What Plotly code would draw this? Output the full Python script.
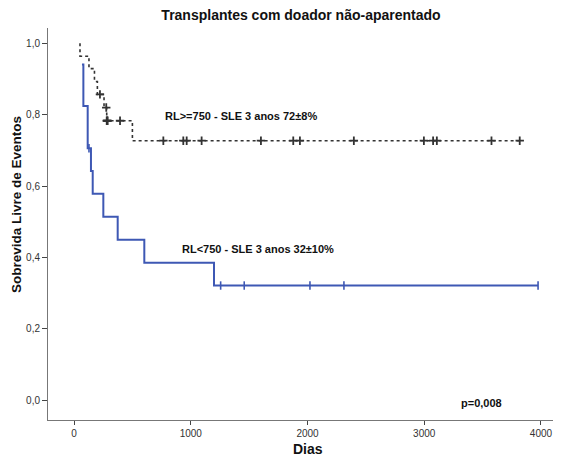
import plotly.graph_objects as go

# RL<750 (blue, solid) - step points of Kaplan-Meier estimate
blue_times = [68, 80, 117, 145, 160, 251, 374, 602, 1199, 3975]
blue_surv = [0.941, 0.824, 0.706, 0.642, 0.578, 0.514, 0.449, 0.385, 0.321, 0.321]
blue_censor_times = [128, 1256, 1458, 2021, 2312, 3975]

# RL>=750 (black, dotted)
dot_times = [51, 51, 128, 175, 200, 257, 280, 500, 3818]
dot_surv = [1.0, 0.964, 0.929, 0.893, 0.857, 0.820, 0.783, 0.727, 0.727]
dot_censor_times = [222, 276, 280, 284, 288, 394, 765, 936, 965, 1093, 1601, 1878, 1935,
                    2397, 2997, 3076, 3108, 3576, 3818]

x_ticks = [0, 1000, 2000, 3000, 4000]
y_ticks = [0.0, 0.2, 0.4, 0.6, 0.8, 1.0]
y_tick_labels = ["0,0", "0,2", "0,4", "0,6", "0,8", "1,0"]


def surv_at(times, surv, t):
    val = surv[0]
    for ti, si in zip(times, surv):
        if ti <= t:
            val = si
    return val


FONT = "Liberation Sans, Arial, sans-serif"
BLUE = "rgb(62,88,180)"
DARK = "#333333"

# page offset (body margin) and figure geometry
OFF = 8
W, H = 553, 448
L, R, T, B = 40, 8, 20, 36
PW, PH = W - L - R, H - T - B


def px(x):  # page pixel -> paper x
    return (x - OFF - L) / PW


def py(y):  # page pixel -> paper y
    return 1 - (y - OFF - T) / PH


fig = go.Figure()

fig.add_trace(go.Scatter(x=dot_times, y=dot_surv, mode="lines", line_shape="hv",
                         line=dict(color=DARK, width=1.6, dash="dot"), showlegend=False))
fig.add_trace(go.Scatter(x=dot_censor_times,
                         y=[surv_at(dot_times, dot_surv, t) for t in dot_censor_times],
                         mode="markers",
                         marker=dict(symbol="cross-thin", size=6,
                                     line=dict(color=DARK, width=1.8)),
                         showlegend=False))

fig.add_trace(go.Scatter(x=blue_times, y=blue_surv, mode="lines", line_shape="hv",
                         line=dict(color=BLUE, width=2), showlegend=False))
fig.add_trace(go.Scatter(x=blue_censor_times,
                         y=[surv_at(blue_times, blue_surv, t) for t in blue_censor_times],
                         mode="markers",
                         marker=dict(symbol="line-ns", size=6,
                                     line=dict(color=BLUE, width=1.6)),
                         showlegend=False))

fig.update_layout(
    width=W, height=H,
    margin=dict(l=L, r=R, t=T, b=B, autoexpand=False),
    paper_bgcolor="white", plot_bgcolor="white",
    font=dict(family=FONT, color="#222"),
    title=dict(text="<b>Transplantes com doador não-aparentado</b>",
               x=(301 - OFF) / W, xanchor="center", xref="container",
               y=1 - (15 - OFF) / H, yref="container", yanchor="middle",
               font=dict(size=14, color="#111", family=FONT)),
    xaxis=dict(range=[-223, 4103], tickvals=x_ticks, ticktext=[str(v) for v in x_ticks],
               showgrid=False, zeroline=False, showline=True, linecolor="#777",
               linewidth=1, ticks="outside", ticklen=4, tickcolor="#444",
               tickfont=dict(size=10, color="#333", family=FONT)),
    yaxis=dict(range=[-0.056, 1.043], tickvals=y_ticks, ticktext=y_tick_labels,
               showgrid=False, zeroline=False, showline=True, linecolor="#777",
               linewidth=1, ticks="outside", ticklen=5, tickcolor="#444",
               tickfont=dict(size=10, color="#333", family=FONT)),
    annotations=[
        dict(x=px(163), y=py(116), xref="paper", yref="paper",
             text="<b>RL&gt;=750 - SLE 3 anos 72±8%</b>", showarrow=False,
             xanchor="left", yanchor="middle", font=dict(size=11, color="#111")),
        dict(x=px(180), y=py(249), xref="paper", yref="paper",
             text="<b>RL&lt;750 - SLE 3 anos 32±10%</b>", showarrow=False,
             xanchor="left", yanchor="middle", font=dict(size=11, color="#111")),
        dict(x=px(459), y=py(403), xref="paper", yref="paper",
             text="<b>p=0,008</b>", showarrow=False,
             xanchor="left", yanchor="middle", font=dict(size=11, color="#111")),
        dict(x=px(308), y=py(449), xref="paper", yref="paper",
             text="<b>Dias</b>", showarrow=False,
             xanchor="center", yanchor="middle", font=dict(size=14, color="#111")),
        dict(x=px(17), y=py(205), xref="paper", yref="paper",
             text="<b>Sobrevida Livre de Eventos</b>", showarrow=False, textangle=-90,
             xanchor="center", yanchor="middle", font=dict(size=13.5, color="#111")),
    ],
)

fig.write_html("out.html")
